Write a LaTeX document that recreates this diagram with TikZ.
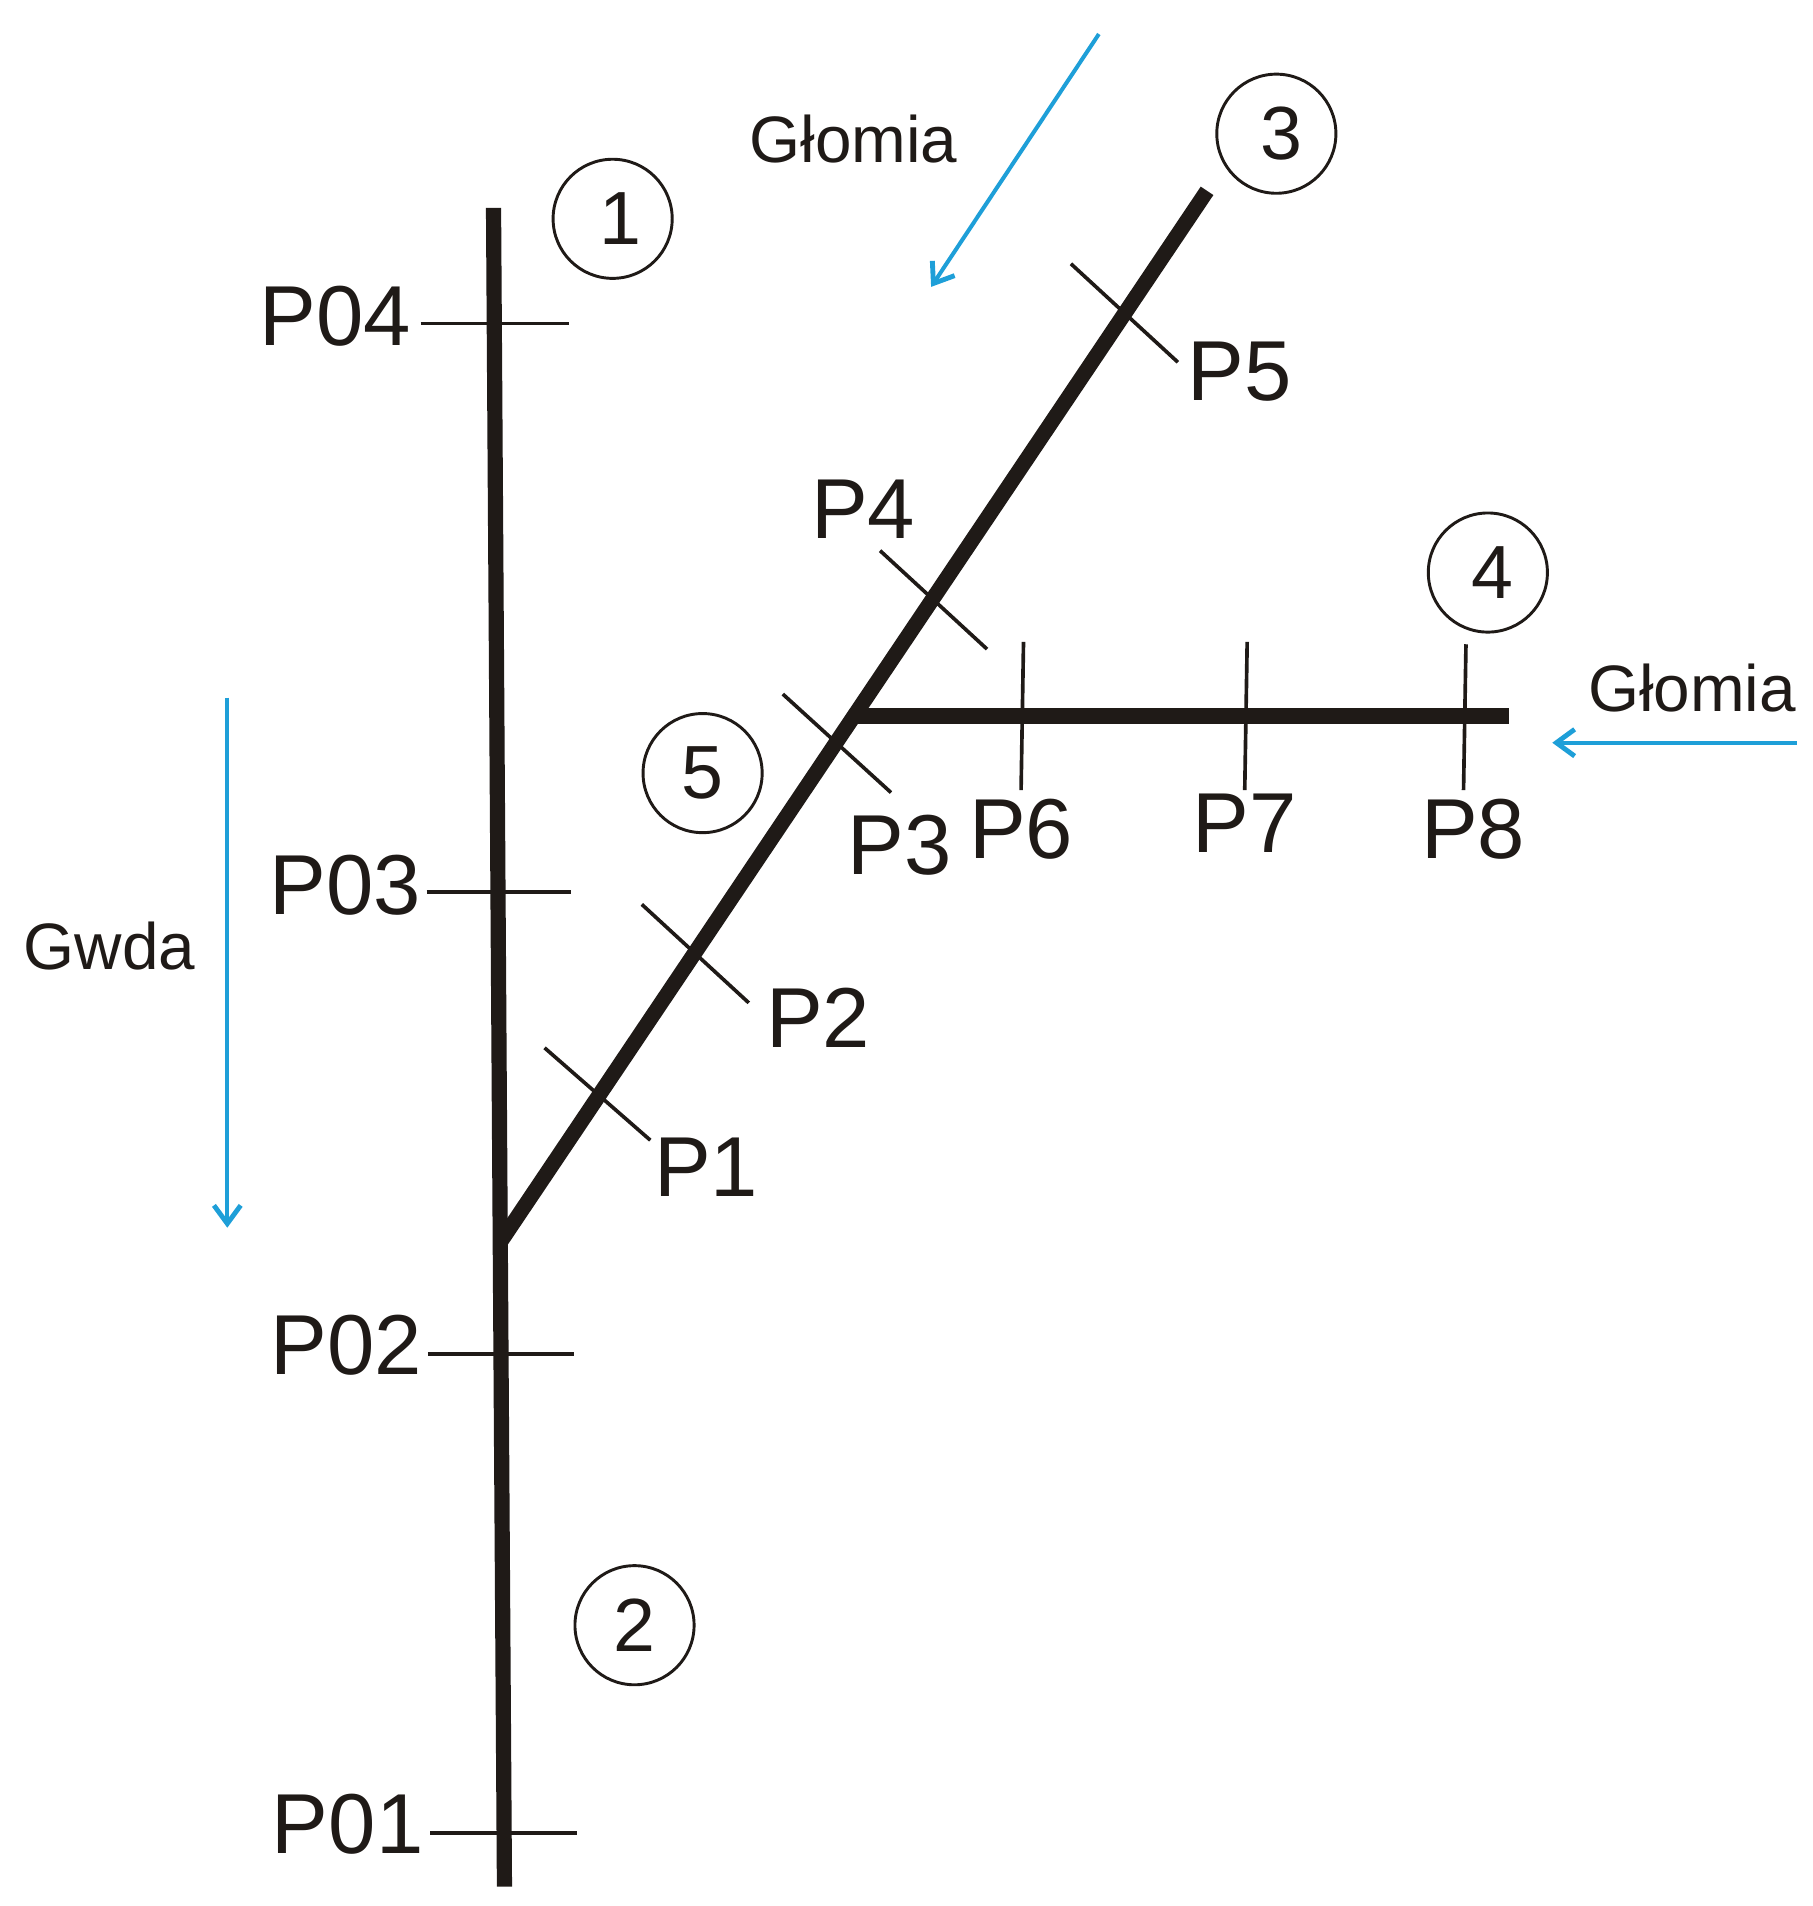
\documentclass[tikz,border=0pt]{standalone}
\usepackage{fontspec}
\setmainfont{Liberation Sans}
\usetikzlibrary{arrows.meta}
\definecolor{riverblue}{HTML}{1E9FD8}
\definecolor{ink}{HTML}{1F1A17}
\newcommand{\dgt}[3]{\raisebox{#2}{\kern #1 #3}}
\tikzset{
  x=1pt,y=-1pt,
  river/.style={draw=ink,line width=12.5pt},
  tick/.style={draw=ink,line width=3pt},
  flow/.style={draw=riverblue,line width=3.3pt,-{Straight Barb[length=15pt,width=22pt,line width=4pt]}},
  num/.style={circle,draw=ink,line width=2.4pt,minimum size=98pt,inner sep=0pt,font=\fontsize{62}{62}\selectfont,text=ink},
  big/.style={inner sep=0pt,font=\fontsize{70}{70}\selectfont,text=ink},
  small/.style={inner sep=0pt,font=\fontsize{54}{54}\selectfont,text=ink}
}
\begin{document}
\begin{tikzpicture}
\useasboundingbox (0,0) rectangle (1491,1568);
% river axes
\coordinate (gwdaTop) at (406,171);
\coordinate (gwdaMouth) at (411.5,1022);
\coordinate (gwdaEnd) at (415,1552);
\coordinate (glTop) at (993,157);
\coordinate (glJoin) at (703,589);
\coordinate (glEast) at (1241,589);
\draw[river] (gwdaTop) -- (gwdaEnd);
\draw[river] (gwdaMouth) -- (glTop);
\draw[river] (glJoin) -- (glEast);
% Gwda ticks
\foreach \n/\xa/\xb/\y in {a/346/468/266,b/351/470/734,c/352/472/1114,d/354/475/1508}{
  \coordinate (t\n1) at (\xa,\y); \coordinate (t\n2) at (\xb,\y);
  \draw[tick] (t\n1) -- (t\n2);
}
% oblique ticks
\foreach \n/\xa/\ya/\xb/\yb in {e/448/862/535/938,f/528/744/616/825,g/644/571/733/652,h/724/453/812/534,i/881/217/969/298}{
  \coordinate (t\n1) at (\xa,\ya); \coordinate (t\n2) at (\xb,\yb);
  \draw[tick] (t\n1) -- (t\n2);
}
% vertical ticks
\foreach \n/\xa/\ya/\xb/\yb in {j/842/528/840/650,k/1026/528/1024/650,l/1206/530/1204/650}{
  \coordinate (t\n1) at (\xa,\ya); \coordinate (t\n2) at (\xb,\yb);
  \draw[tick] (t\n1) -- (t\n2);
}
% labels
\node[big] (p04) at (276,260) {P04};
\node[big] (p03) at (284,728) {P03};
\node[big] (p02) at (285,1107) {P02};
\node[big] (p01) at (286,1501) {P01};
\node[big] (p1) at (581,960) {P1};
\node[big] (p2) at (673,837) {P2};
\node[big] (p3) at (740,695) {P3};
\node[big] (p4) at (710,419) {P4};
\node[big] (p5) at (1020,306) {P5};
\node[big] (p6) at (840,682) {P6};
\node[big] (p7) at (1024,677) {P7};
\node[big] (p8) at (1212,682) {P8};
\node[num] (n1) at (504,180) {\dgt{13pt}{-2pt}{1}};
\node[num] (n2) at (522,1337) {\dgt{0pt}{-1pt}{2}};
\node[num] (n3) at (1050,110) {\dgt{9pt}{-3pt}{3}};
\node[num] (n4) at (1224,471) {\dgt{8pt}{-1pt}{4}};
\node[num] (n5) at (578,636) {\dgt{0pt}{-1pt}{5}};
\node[small] (gl1) at (702,114) {Głomia};
\node[small] (gl2) at (1392,566) {Głomia};
\node[small] (gw) at (90,778) {Gwda};
% flow arrows
\coordinate (f1a) at (904,28); \coordinate (f1b) at (766,236);
\coordinate (f2a) at (1478,611); \coordinate (f2b) at (1277,611);
\coordinate (f3a) at (187,574); \coordinate (f3b) at (187,1010);
\draw[flow] (f1a) -- (f1b);
\draw[flow] (f2a) -- (f2b);
\draw[flow] (f3a) -- (f3b);
\end{tikzpicture}
\end{document}
